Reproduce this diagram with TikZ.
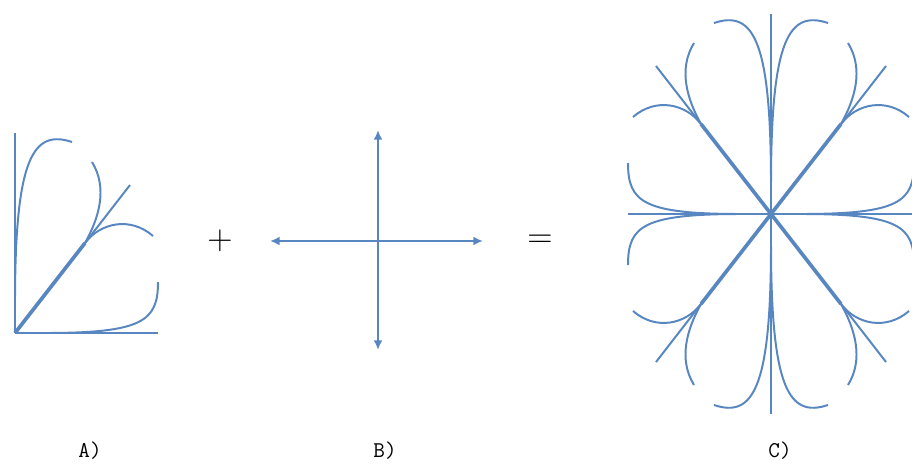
\documentclass[tikz,border=0pt]{standalone}
\usepackage{tikz}
\usetikzlibrary{positioning, arrows.meta}
\definecolor{lineblue}{RGB}{88,134,192}

\begin{document}
\begin{tikzpicture}[
        x=0.025cm, y=0.025cm,
        curve/.style={draw=lineblue, line width=1.4pt},
        axis/.style={draw=lineblue, line width=1.8pt},
        stem/.style={draw=lineblue, line width=2.6pt},
        arr/.style={draw=lineblue, line width=1.4pt, {Latex[length=2.4mm,width=2.2mm]}-{Latex[length=2.4mm,width=2.2mm]}},
        sign/.style={font=\fontsize{25}{30}\selectfont},
        tag/.style={font=\ttfamily\fontsize{16}{18}\selectfont},
        pics/quadrant/.style={code={
            % axes and diagonal
            \draw[axis] (0,0) -- (0,200);
            \draw[axis] (0,0) -- (143,0);
            \draw[stem] (0,0) -- (70,90);
            \draw[curve] (70,90) -- (115,148);
            % outer curves
            \draw[curve] (0,30) .. controls (0,175) and (18,204) .. (57,191);
            \draw[curve] (30,0) .. controls (128,0) and (143,12) .. (143,51);
            % branches off the diagonal
            \draw[curve] (70,90) .. controls (84,115) and (93,145) .. (77,171);
            \draw[curve] (70,90) .. controls (85,110) and (115,117) .. (138,97);
        }},
    ]
    \useasboundingbox (0,0) rectangle (912,463);

    % A) one quadrant
    \coordinate (oa) at (15,130);
    \pic at (oa) {quadrant};

    % plus sign
    \node[sign] (plus) at (220,222) {$+$};

    % B) the two mirror axes
    \coordinate (ob) at (378,222);
    \coordinate (bw) at (270,222);
    \coordinate (be) at (483,222);
    \coordinate (bn) at (378,333);
    \coordinate (bs) at (378,113);
    \draw[arr] (bw) -- (be);
    \draw[arr] (bs) -- (bn);

    % equals sign
    \node[sign] (equals) at (540,222) {$=$};

    % C) four mirrored quadrants
    \coordinate (oc) at (771,249);
    \pic at (oc) {quadrant};
    \pic[xscale=-1] at (oc) {quadrant};
    \pic[yscale=-1] at (oc) {quadrant};
    \pic[xscale=-1, yscale=-1] at (oc) {quadrant};

    % labels
    \node[tag] (taga) at (90,12) {A)};
    \node[tag] (tagb) at (385,12) {B)};
    \node[tag] (tagc) at (780,12) {C)};
\end{tikzpicture}
\end{document}
